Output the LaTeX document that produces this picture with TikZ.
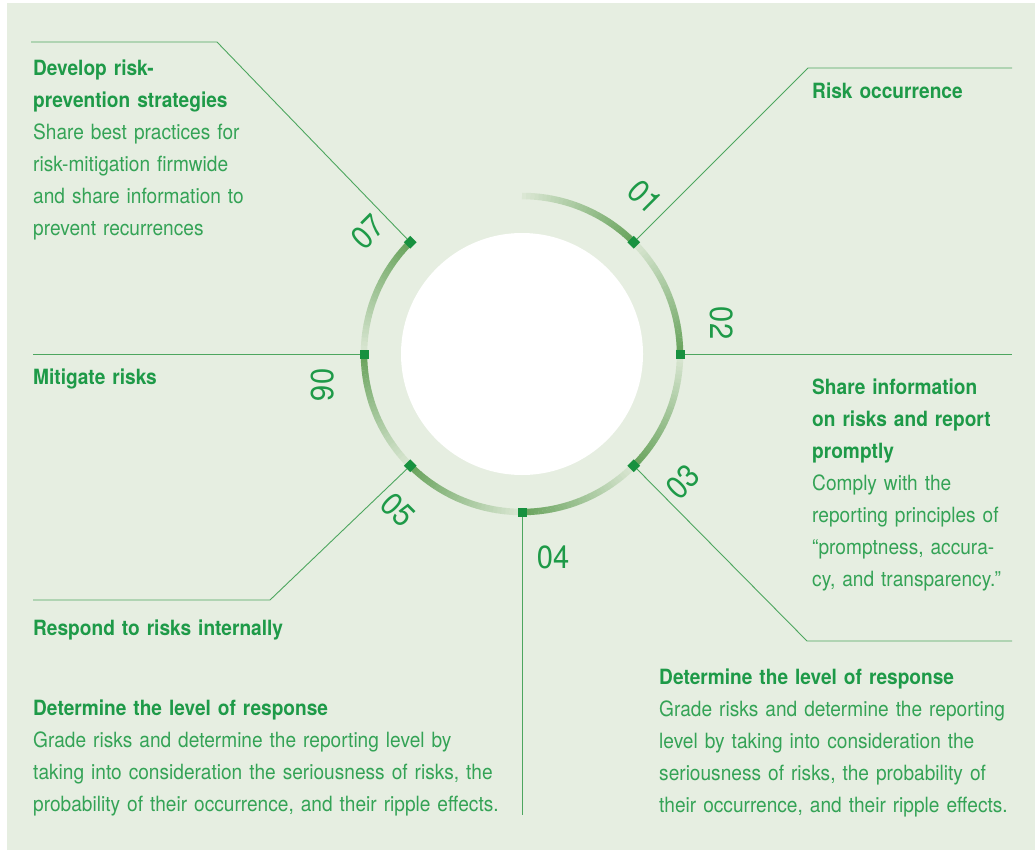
\documentclass[tikz,border=0pt]{standalone}
\usepackage{fontspec}
\setmainfont{TeX Gyre Heros}[FakeStretch=0.91]
\usepackage{tikz}
\usetikzlibrary{arrows}
\definecolor{bgc}{HTML}{E6EEE1}
\definecolor{titlec}{HTML}{1E9A48}
\definecolor{bodyc}{HTML}{34A356}
\definecolor{linec}{HTML}{4DA65F}
\definecolor{markc}{HTML}{17913F}
\definecolor{ringdark}{HTML}{66A25A}
\definecolor{ringlight}{HTML}{DCE8D5}
\newcommand{\rtitle}[1]{{\bfseries\color{titlec}#1}}

\begin{document}
\begin{tikzpicture}[x=1pt, y=-1pt,
			ring/.style={line width=6.5pt, line cap=butt},
			marker/.style={fill=markc, minimum size=9pt, inner sep=0pt, outer sep=0pt},
			leader/.style={draw=linec, line width=0.9pt},
			num/.style={text=titlec, font=\fontsize{32}{32}\selectfont, inner sep=0pt},
			txt/.style={text=bodyc, font=\fontsize{21}{32}\selectfont, anchor=base west, align=left, text width=490pt, inner sep=0pt}]
			%Hintergrund
			\useasboundingbox (0,0) rectangle (1035,850);
			\fill[white] (0,0) rectangle (1035,850);
			\fill[bgc] (7,3) rectangle (1035,850);
			% Kreis und Ring zeichnen
			\coordinate (c) at (522,354);
			\fill[white] (c) circle (121);
			\begin{scope}[shift={(c)}, yscale=-1]
				\foreach \k in {0,...,6}
					\foreach \i in {0,...,29} {
						\pgfmathsetmacro{\pa}{90-45*\k-1.5*\i}
						\pgfmathsetmacro{\pb}{\pa-1.6}
						\pgfmathsetmacro{\pp}{int(100*(\i+0.5)/30)}
						\draw[ring, draw=ringdark!\pp!ringlight] (\pa:158) arc[start angle=\pa, end angle=\pb, radius=158];
					}
				% Marken
				\foreach \n/\a in {1/45, 2/0, 3/-45, 4/-90, 5/-135, 6/180, 7/135}
					\node[marker, rotate=\a] (m\n) at (\a:158) {};
			\end{scope}
			% Linien zeichnen
			\coordinate (b1) at (808,68);   \coordinate (e1) at (1012,68);
			\coordinate (e2) at (1012,354);
			\coordinate (b3) at (807,641);  \coordinate (e3) at (1012,641);
			\coordinate (e4) at (522,815);
			\coordinate (b5) at (270,600);  \coordinate (e5) at (33,600);
			\coordinate (e6) at (33,354);
			\coordinate (b7) at (217,42);   \coordinate (e7) at (31,42);
			\draw[leader] (m1) -- (b1) -- (e1);
			\draw[leader] (m2) -- (e2);
			\draw[leader] (m3) -- (b3) -- (e3);
			\draw[leader] (m4) -- (e4);
			\draw[leader] (m5) -- (b5) -- (e5);
			\draw[leader] (m6) -- (e6);
			\draw[leader] (m7) -- (b7) -- (e7);
			% Nummern
			\foreach \n/\x/\y/\r in {01/645/197/-45, 02/722/323/-90, 03/683/482/45, 04/553/557/0, 05/398/510/-45, 06/323/385/-90, 07/368/232/45}
				\node[num, rotate=\r] (n\n) at (\x,\y) {\n};
			% Texte
			\node[txt] (t1) at (812,99) {\rtitle{Risk occurrence}};
			\node[txt] (t2) at (812,394) {\rtitle{Share information}\\\rtitle{on risks and report}\\\rtitle{promptly}\\Comply with the\\reporting principles of\\“promptness, accura-\\cy, and transparency.”};
			\node[txt] (t3) at (659,684) {\rtitle{Determine the level of response}\\Grade risks and determine the reporting\\level by taking into consideration the\\seriousness of risks, the probability of\\their occurrence, and their ripple effects.};
			\node[txt] (t4) at (33,715) {\rtitle{Determine the level of response}\\Grade risks and determine the reporting level by\\taking into consideration the seriousness of risks, the\\probability of their occurrence, and their ripple effects.};
			\node[txt] (t5) at (33,635) {\rtitle{Respond to risks internally}};
			\node[txt] (t6) at (33,384) {\rtitle{Mitigate risks}};
			\node[txt] (t7) at (33,76) {\rtitle{Develop risk-}\\\rtitle{prevention strategies}\\Share best practices for\\risk-mitigation firmwide\\and share information to\\prevent recurrences};
		\end{tikzpicture}
\end{document}
